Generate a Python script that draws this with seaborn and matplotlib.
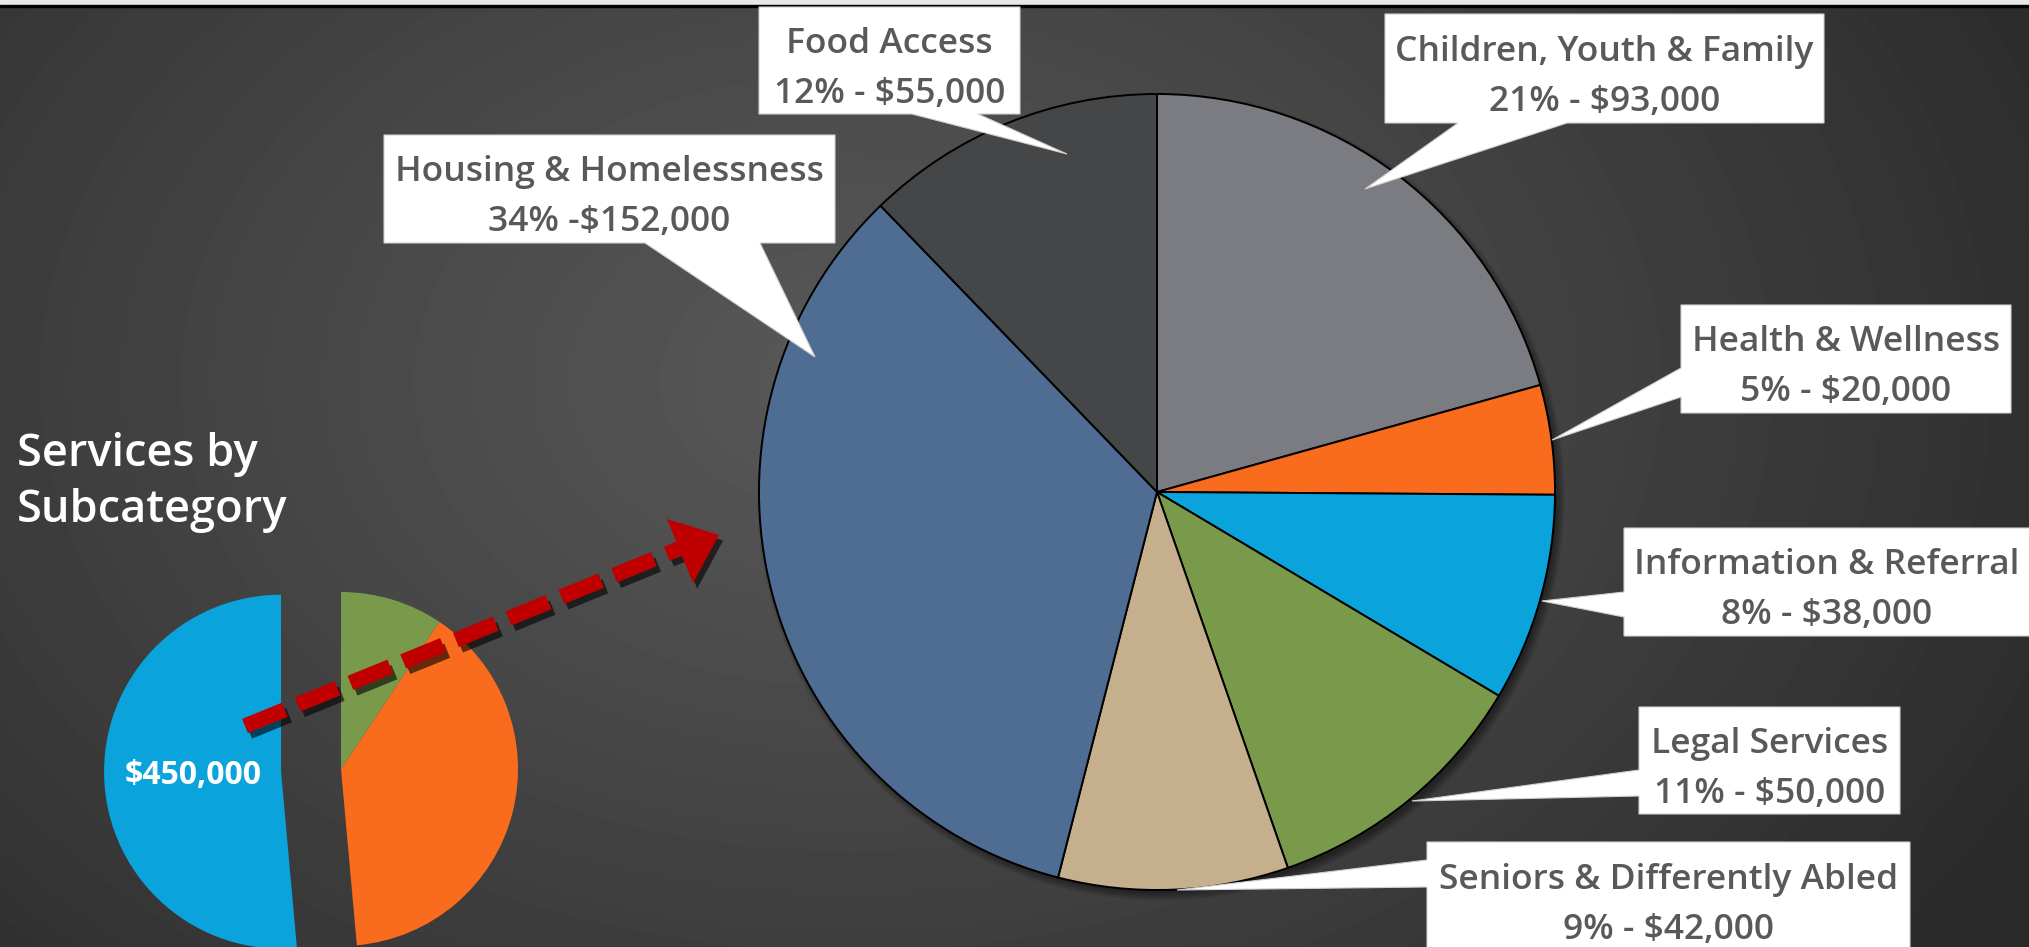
import numpy as np
import matplotlib
matplotlib.use("Agg")
import matplotlib.pyplot as plt
import matplotlib.patheffects as pe
from matplotlib.patches import Polygon, Circle
import seaborn as sns

# main pie: services by subcategory
categories = ["Children, Youth & Family", "Health & Wellness", "Information & Referral",
              "Legal Services", "Seniors & Differently Abled", "Housing & Homelessness",
              "Food Access"]
amounts = [93000, 20000, 38000, 50000, 42000, 152000, 55000]
value_labels = ["21% - $93,000", "5% - $20,000", "8% - $38,000", "11% - $50,000",
                "9% - $42,000", "34% -$152,000", "12% - $55,000"]
slice_colors = ["#7b7c81", "#f96c1d", "#0aa3dc", "#7a9a4b", "#c5af8d", "#4f6c93", "#454648"]

# small pie: services share of the whole budget
sub_labels = ["$450,000", "", ""]
sub_amounts = [450000, 343000, 82000]
sub_colors = ["#0aa3dc", "#f96c1d", "#7a9a4b"]

W, H = 2029, 947

sns.set_style("dark")
plt.rcParams['font.family'] = ['Open Sans', 'DejaVu Sans']
plt.rcParams['lines.scale_dashes'] = False

fig = plt.figure(figsize=(W / 100, H / 100), dpi=100)
ax = fig.add_axes([0, 0, 1, 1])

#dark radial background
yy, xx = np.mgrid[0:H, 0:W]
d = np.sqrt(((xx - 850) / 1350.0) ** 2 + ((yy - 380) / 950.0) ** 2)
bg = 88 - 46 * np.clip(d, 0, 1) ** 1.1
ax.imshow(bg, extent=(0, W, 0, H), origin='upper', cmap='gray', vmin=0, vmax=255,
          zorder=0, interpolation='bilinear')

# thin strip + black line at the top
ax.fill_between([0, W], H - 5, H, color="#e8e8e8", zorder=1)
ax.fill_between([0, W], H - 7, H - 4.5, color="black", zorder=1)


def py(y):
    #image rows to axes y
    return H - y


# big pie, soft shadow mostly to the lower right
cx, cy, r = 1157, 492, 398
for k in range(6):
    ax.add_patch(Circle((cx + 4, py(cy + 5)), r - 2 + k * 1.5, color="black",
                        alpha=0.08, lw=0, zorder=2))
ax.pie(amounts, colors=slice_colors, startangle=90, counterclock=False,
       center=(cx, py(cy)), radius=r, frame=True,
       wedgeprops=dict(edgecolor="black", linewidth=1.4, zorder=3))

# small pie
ax.pie(sub_amounts, colors=sub_colors, startangle=90, counterclock=True,
       center=(341, py(769)), radius=177, explode=[60, 0, 0], frame=True,
       labels=sub_labels, labeldistance=0.5,
       textprops=dict(color="white", fontsize=23, fontweight="bold", ha="center", va="center"),
       wedgeprops=dict(linewidth=0, zorder=3))

# callout boxes: (left, top, right, bottom), side, pointer base (a, b), tip
callouts = {
    "Children, Youth & Family": ((1385, 14, 1824, 123), "bottom", (1458, 1567), (1365, 189)),
    "Health & Wellness": ((1681, 305, 2011, 413), "left", (368, 397), (1552, 440)),
    "Information & Referral": ((1624, 528, 2040, 636), "left", (592, 617), (1542, 601)),
    "Legal Services": ((1639, 707, 1900, 814), "left", (770, 796), (1412, 801)),
    "Seniors & Differently Abled": ((1427, 842, 1910, 960), "left", (860, 887), (1177, 890)),
    "Housing & Homelessness": ((384, 135, 835, 243), "bottom", (645, 760), (815, 357)),
    "Food Access": ((759, 7, 1020, 114), "bottom", (912, 978), (1067, 154)),
}

for name, val in zip(categories, value_labels):
    (x0, y0, x1, y1), side, (a, b), tip = callouts[name]
    if side == "bottom":
        pts = [(x0, y0), (x1, y0), (x1, y1), (b, y1), tip, (a, y1), (x0, y1)]
    else:
        pts = [(x0, y0), (x1, y0), (x1, y1), (x0, y1), (x0, b), tip, (x0, a)]
    pts = [(p[0], py(p[1])) for p in pts]
    ax.add_patch(Polygon(pts, closed=True, facecolor="white", edgecolor="#d0d0d0",
                         lw=0.8, zorder=5))
    tx = (x0 + min(x1, W)) / 2
    tyc = (y0 + min(y1, H + 4)) / 2
    ax.text(tx, py(tyc - 8), name, ha="center", va="baseline", color="#595959",
            fontsize=25.5, fontweight="semibold", zorder=6)
    ax.text(tx, py(tyc + 42), val, ha="center", va="baseline", color="#595959",
            fontsize=25.5, fontweight="semibold", zorder=6)

# title
ax.text(17, py(432), "Services by\nSubcategory", ha="left", va="top", color="white",
        fontsize=32.5, fontweight="semibold", linespacing=1.33, zorder=6)

# red dashed arrow from the small pie to the big one
shadow_line = [pe.SimpleLineShadow(offset=(3, -4), shadow_color="black", alpha=0.6), pe.Normal()]
ax.plot([245, 681], [py(726), py(548)], color="#c00000", lw=11, solid_capstyle="butt",
        dash_capstyle="butt", dashes=(31, 10), zorder=7, path_effects=shadow_line)
ax.add_patch(Polygon([(667, py(519)), (719, py(535)), (693, py(583))], closed=True,
                     facecolor="#c00000", lw=0, zorder=7,
                     path_effects=[pe.SimplePatchShadow(offset=(3, -4), shadow_rgbFace="black",
                                                        alpha=0.6), pe.Normal()]))

ax.set_xlim(0, W)
ax.set_ylim(0, H)
ax.set_aspect("auto")
ax.axis("off")

fig.savefig("out.png", dpi=100)
